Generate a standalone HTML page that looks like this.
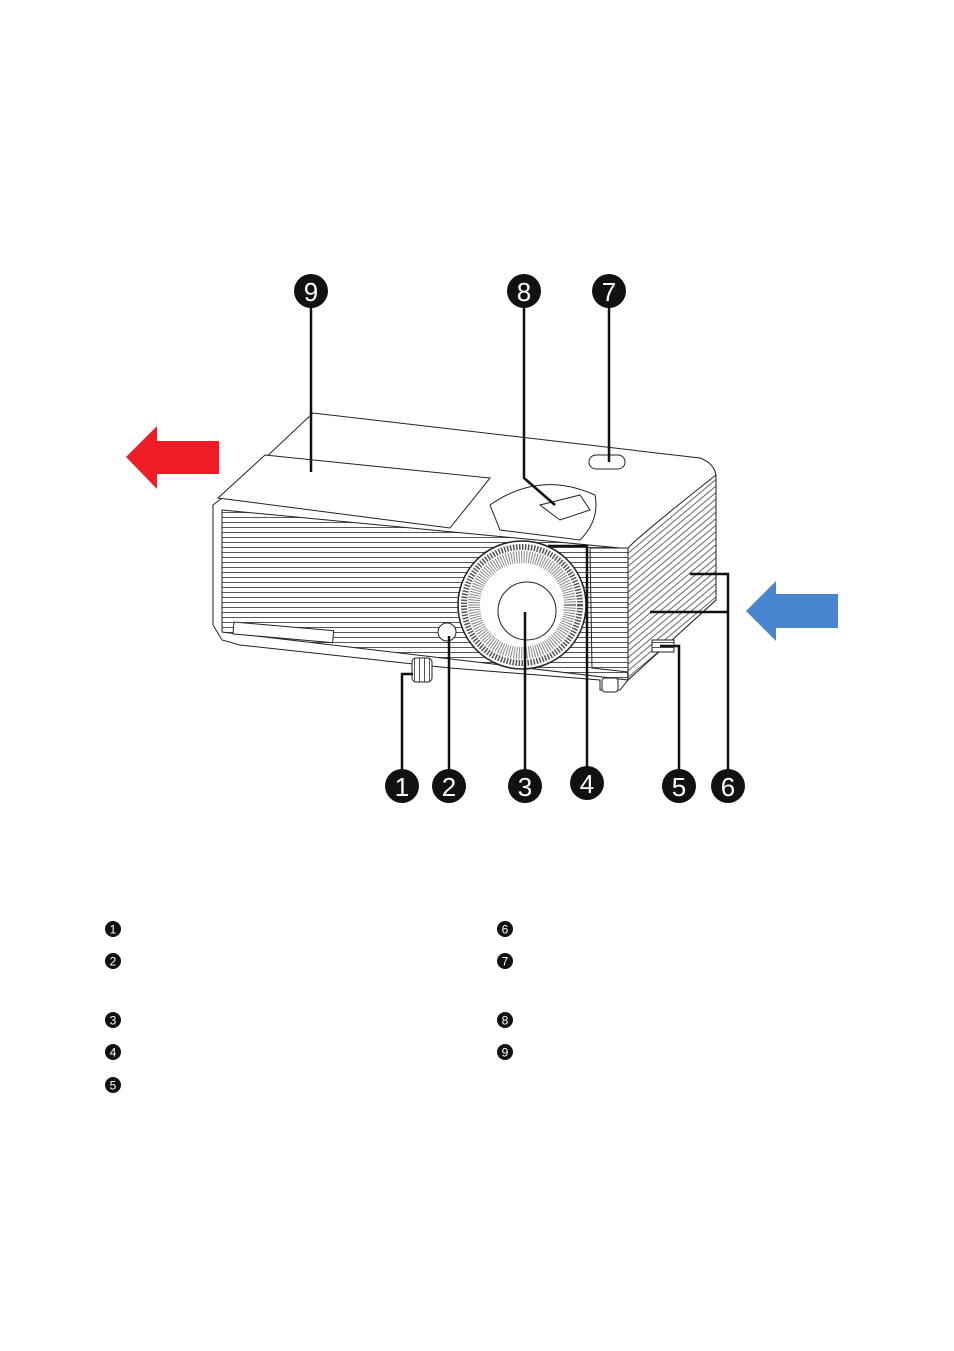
<!DOCTYPE html>
<html><head><meta charset="utf-8"><style>
html,body{margin:0;padding:0;background:#fff;}
svg{display:block}
</style></head><body>
<svg width="954" height="1351" viewBox="0 0 954 1351" xmlns="http://www.w3.org/2000/svg" font-family="Liberation Sans, sans-serif">
<defs>
<pattern id="vent" width="6" height="5" patternUnits="userSpaceOnUse"><rect width="6" height="5" fill="#fff"/><line x1="0" y1="2.5" x2="6" y2="2.5" stroke="#555" stroke-width="1"/></pattern>
<pattern id="vent2" width="5" height="5" patternUnits="userSpaceOnUse" patternTransform="rotate(-40)"><rect width="5" height="5" fill="#fff"/><line x1="0" y1="2.5" x2="5" y2="2.5" stroke="#666" stroke-width="1"/></pattern>
</defs>
<!-- arrows -->
<polygon points="126,457 157,426 157,441 219,441 219,474 157,474 157,489" fill="#ee1c25"/>
<polygon points="746,611 776,581 776,594 838,594 838,628 776,628 776,641" fill="#4a86d0"/>
<!-- projector body -->
<g stroke="#222" stroke-width="1" fill="#fff">
<path d="M213,505 L226,495 L313,413 L700,458 Q716,464 716,478 L716,600 L628,680 L620,690 L600,690 L600,680 L450,668 L240,645 L222,640 L213,625 Z"/>
<path d="M218,498 L265,455 L490,478 L450,528 Z" fill="#fff"/>
<path d="M222,510 L620,548 L628,680 L222,632 Z" fill="url(#vent)"/>
<path d="M628,548 Q640,535 716,475 L716,600 L628,680 Z" fill="url(#vent2)"/>
<path d="M590,548 L628,548 L628,672 L592,668 Z" fill="url(#vent)"/>
<rect x="234" y="622" width="100" height="12" fill="#fff" transform="rotate(5 234 622)"/>
<path d="M490,505 Q540,470 595,495 Q600,520 580,540 L500,530 Z" fill="#fff"/>
<path d="M540,505 L580,495 L590,510 L560,520 Z" fill="#fff"/>
<rect x="589" y="455" width="36" height="14" rx="7" fill="#fff"/>
<circle cx="522" cy="605" r="64" fill="#fff" stroke-width="1.5"/>
<circle cx="522" cy="605" r="58" fill="none" stroke="#555" stroke-width="6" stroke-dasharray="1.5 1.5"/>
<circle cx="522" cy="605" r="48" fill="none" stroke="#888" stroke-width="12" stroke-dasharray="1 1.5"/>
<circle cx="527" cy="611" r="29" fill="#fff"/>
<circle cx="447" cy="632" r="9" fill="#fff"/>
<rect x="410" y="660" width="24" height="20" rx="4" fill="url(#vent)" transform="rotate(90 422 670)"/>
<rect x="602" y="678" width="16" height="14" rx="3"/>
<rect x="652" y="640" width="22" height="12" fill="url(#vent)"/>
</g>
<!-- leader lines -->
<g stroke="#111" stroke-width="2.5" fill="none">
<line x1="311" y1="306" x2="311" y2="472"/>
<polyline points="524,306 524,478 555,505"/>
<line x1="609" y1="306" x2="609" y2="462"/>
<polyline points="402,770 402,674 413,674"/>
<line x1="449" y1="770" x2="449" y2="636"/>
<line x1="525" y1="770" x2="525" y2="612"/>
<polyline points="587,767 587,546 548,546"/>
<polyline points="679,770 679,646 660,646"/>
<polyline points="728,770 728,574 690,574"/>
<line x1="728" y1="612" x2="650" y2="612"/>
</g>
<!-- big number circles -->
<g font-size="26" text-anchor="middle" fill="#fff">
<circle cx="311" cy="291" r="17" fill="#111"/><text x="311" y="301">9</text>
<circle cx="524" cy="291" r="17" fill="#111"/><text x="524" y="301">8</text>
<circle cx="609" cy="291" r="17" fill="#111"/><text x="609" y="301">7</text>
<circle cx="402" cy="786" r="17" fill="#111"/><text x="402" y="796">1</text>
<circle cx="449" cy="786" r="17" fill="#111"/><text x="449" y="796">2</text>
<circle cx="525" cy="786" r="17" fill="#111"/><text x="525" y="796">3</text>
<circle cx="587" cy="783" r="17" fill="#111"/><text x="587" y="793">4</text>
<circle cx="679" cy="786" r="17" fill="#111"/><text x="679" y="796">5</text>
<circle cx="728" cy="786" r="17" fill="#111"/><text x="728" y="796">6</text>
</g>
<!-- legend circles -->
<g font-size="12" text-anchor="middle" fill="#fff">
<circle cx="113" cy="929" r="8" fill="#111"/><text x="113" y="933.5">1</text>
<circle cx="113" cy="961" r="8" fill="#111"/><text x="113" y="965.5">2</text>
<circle cx="113" cy="1020" r="8" fill="#111"/><text x="113" y="1024.5">3</text>
<circle cx="113" cy="1052" r="8" fill="#111"/><text x="113" y="1056.5">4</text>
<circle cx="113" cy="1085" r="8" fill="#111"/><text x="113" y="1089.5">5</text>
<circle cx="505" cy="929" r="8" fill="#111"/><text x="505" y="933.5">6</text>
<circle cx="505" cy="961" r="8" fill="#111"/><text x="505" y="965.5">7</text>
<circle cx="505" cy="1020" r="8" fill="#111"/><text x="505" y="1024.5">8</text>
<circle cx="505" cy="1052" r="8" fill="#111"/><text x="505" y="1056.5">9</text>
</g>
</svg>
</body></html>
